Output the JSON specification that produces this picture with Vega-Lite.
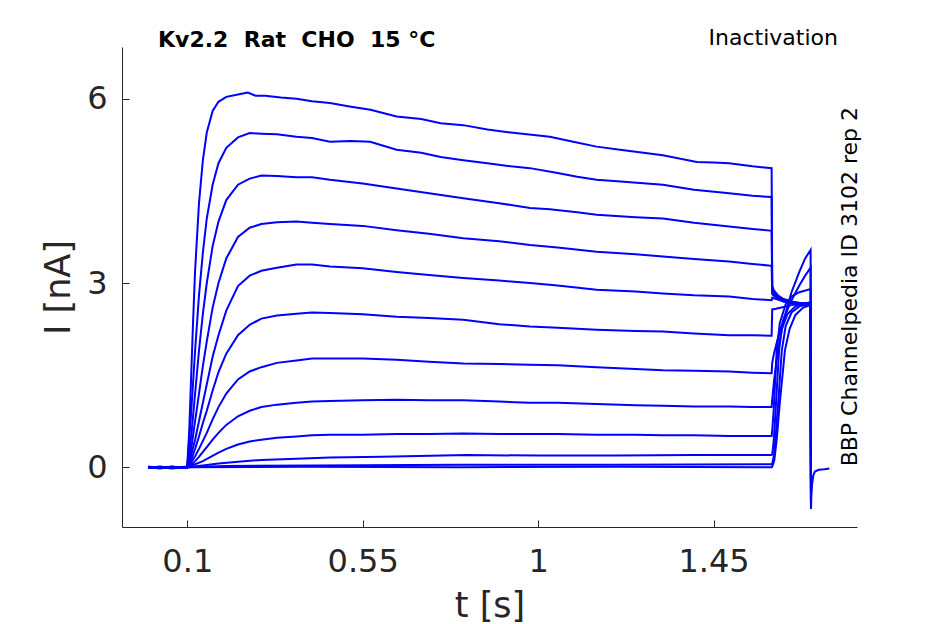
{
  "$schema": "https://vega.github.io/schema/vega-lite/v6.json",
  "width": 735,
  "height": 480,
  "autosize": "none",
  "padding": {"left": 122, "top": 47, "right": 88, "bottom": 97},
  "background": "white",
  "config": {
    "view": {"stroke": null},
    "axis": {
      "grid": false,
      "domainColor": "#262626",
      "tickColor": "#262626",
      "labelColor": "#262626",
      "titleColor": "#262626",
      "labelFont": "DejaVu Sans",
      "titleFont": "DejaVu Sans",
      "labelFontSize": 32,
      "titleFontSize": 35,
      "titleFontWeight": "normal",
      "tickSize": -7,
      "domainWidth": 1,
      "tickWidth": 1
    }
  },
  "data": {
    "values": [
      {"s":"A","t":0,"i":0.01},{"s":"A","t":0.03,"i":-0.01},{"s":"A","t":0.06,"i":0.0},{"s":"A","t":0.0995,"i":-0.01},
      {"s":"A","t":0.1005,"i":0.1},{"s":"A","t":0.105,"i":0.6},{"s":"A","t":0.11,"i":1.5},{"s":"A","t":0.115,"i":2.4},{"s":"A","t":0.12,"i":3.2},{"s":"A","t":0.13,"i":4.3},{"s":"A","t":0.14,"i":5.0},{"s":"A","t":0.15,"i":5.45},{"s":"A","t":0.165,"i":5.8},{"s":"A","t":0.18,"i":5.95},{"s":"A","t":0.2,"i":6.03},{"s":"A","t":0.23,"i":6.07},{"s":"A","t":0.255,"i":6.1},{"s":"A","t":0.275,"i":6.05},{"s":"A","t":0.3,"i":6.05},{"s":"A","t":0.34,"i":6.02},{"s":"A","t":0.38,"i":6.0},{"s":"A","t":0.42,"i":5.96},
      {"s":"A","t":0.466,"i":5.93},{"s":"A","t":0.52,"i":5.87},{"s":"A","t":0.57,"i":5.82},{"s":"A","t":0.637,"i":5.71},{"s":"A","t":0.7,"i":5.67},{"s":"A","t":0.75,"i":5.6},{"s":"A","t":0.808,"i":5.57},{"s":"A","t":0.87,"i":5.5},{"s":"A","t":0.93,"i":5.45},{"s":"A","t":1.03,"i":5.38},{"s":"A","t":1.09,"i":5.3},{"s":"A","t":1.15,"i":5.22},{"s":"A","t":1.22,"i":5.16},{"s":"A","t":1.32,"i":5.08},{"s":"A","t":1.407,"i":4.97},{"s":"A","t":1.45,"i":4.96},{"s":"A","t":1.49,"i":4.95},{"s":"A","t":1.55,"i":4.9},{"s":"A","t":1.599,"i":4.87},
      {"s":"A","t":1.6005,"i":2.95},{"s":"A","t":1.605,"i":2.88},{"s":"A","t":1.615,"i":2.8},{"s":"A","t":1.63,"i":2.74},{"s":"A","t":1.65,"i":2.7},{"s":"A","t":1.67,"i":2.68},{"s":"A","t":1.699,"i":2.66},
      {"s":"A","t":1.7,"i":-0.67},{"s":"A","t":1.701,"i":-0.45},{"s":"A","t":1.703,"i":-0.26},{"s":"A","t":1.706,"i":-0.13},{"s":"A","t":1.71,"i":-0.07},{"s":"A","t":1.72,"i":-0.04},{"s":"A","t":1.735,"i":-0.03},{"s":"A","t":1.747,"i":-0.02},

      {"s":"B","t":0,"i":-0.01},{"s":"B","t":0.03,"i":0.01},{"s":"B","t":0.06,"i":-0.01},{"s":"B","t":0.0995,"i":0.0},
      {"s":"B","t":0.1005,"i":0.05},{"s":"B","t":0.11,"i":0.9},{"s":"B","t":0.12,"i":1.9},{"s":"B","t":0.13,"i":2.8},{"s":"B","t":0.14,"i":3.5},{"s":"B","t":0.15,"i":4.05},{"s":"B","t":0.165,"i":4.6},{"s":"B","t":0.18,"i":4.95},{"s":"B","t":0.2,"i":5.2},{"s":"B","t":0.23,"i":5.37},{"s":"B","t":0.26,"i":5.44},{"s":"B","t":0.29,"i":5.43},{"s":"B","t":0.33,"i":5.42},{"s":"B","t":0.38,"i":5.38},{"s":"B","t":0.42,"i":5.36},
      {"s":"B","t":0.466,"i":5.3},{"s":"B","t":0.52,"i":5.31},{"s":"B","t":0.569,"i":5.3},{"s":"B","t":0.637,"i":5.17},{"s":"B","t":0.7,"i":5.12},{"s":"B","t":0.75,"i":5.05},{"s":"B","t":0.808,"i":5.0},{"s":"B","t":0.87,"i":4.95},{"s":"B","t":0.93,"i":4.9},{"s":"B","t":0.979,"i":4.87},{"s":"B","t":1.05,"i":4.79},{"s":"B","t":1.1,"i":4.73},{"s":"B","t":1.15,"i":4.68},{"s":"B","t":1.22,"i":4.65},{"s":"B","t":1.32,"i":4.6},{"s":"B","t":1.4,"i":4.52},{"s":"B","t":1.49,"i":4.46},{"s":"B","t":1.55,"i":4.42},{"s":"B","t":1.599,"i":4.4},
      {"s":"B","t":1.6005,"i":2.9},{"s":"B","t":1.605,"i":2.85},{"s":"B","t":1.615,"i":2.78},{"s":"B","t":1.63,"i":2.73},{"s":"B","t":1.65,"i":2.69},{"s":"B","t":1.67,"i":2.67},{"s":"B","t":1.699,"i":2.66},{"s":"B","t":1.7,"i":-0.67},

      {"s":"C","t":0,"i":0.0},{"s":"C","t":0.03,"i":-0.02},{"s":"C","t":0.06,"i":0.01},{"s":"C","t":0.0995,"i":-0.01},
      {"s":"C","t":0.1005,"i":0.03},{"s":"C","t":0.11,"i":0.5},{"s":"C","t":0.12,"i":1.2},{"s":"C","t":0.13,"i":1.9},{"s":"C","t":0.14,"i":2.5},{"s":"C","t":0.15,"i":3.0},{"s":"C","t":0.165,"i":3.6},{"s":"C","t":0.18,"i":4.0},{"s":"C","t":0.2,"i":4.35},{"s":"C","t":0.23,"i":4.6},{"s":"C","t":0.26,"i":4.7},{"s":"C","t":0.29,"i":4.75},{"s":"C","t":0.33,"i":4.74},{"s":"C","t":0.38,"i":4.72},{"s":"C","t":0.42,"i":4.72},
      {"s":"C","t":0.466,"i":4.68},{"s":"C","t":0.55,"i":4.62},{"s":"C","t":0.637,"i":4.54},{"s":"C","t":0.72,"i":4.46},{"s":"C","t":0.808,"i":4.38},{"s":"C","t":0.9,"i":4.3},{"s":"C","t":0.979,"i":4.22},{"s":"C","t":1.03,"i":4.2},{"s":"C","t":1.1,"i":4.15},{"s":"C","t":1.15,"i":4.11},{"s":"C","t":1.25,"i":4.07},{"s":"C","t":1.32,"i":4.05},{"s":"C","t":1.4,"i":3.98},{"s":"C","t":1.49,"i":3.92},{"s":"C","t":1.55,"i":3.88},{"s":"C","t":1.599,"i":3.85},
      {"s":"C","t":1.6005,"i":2.86},{"s":"C","t":1.605,"i":2.82},{"s":"C","t":1.615,"i":2.76},{"s":"C","t":1.63,"i":2.72},{"s":"C","t":1.65,"i":2.68},{"s":"C","t":1.67,"i":2.66},{"s":"C","t":1.699,"i":2.65},{"s":"C","t":1.7,"i":-0.67},

      {"s":"D","t":0,"i":-0.01},{"s":"D","t":0.03,"i":0.0},{"s":"D","t":0.06,"i":-0.02},{"s":"D","t":0.0995,"i":0.0},
      {"s":"D","t":0.1005,"i":0.02},{"s":"D","t":0.11,"i":0.3},{"s":"D","t":0.12,"i":0.75},{"s":"D","t":0.13,"i":1.2},{"s":"D","t":0.14,"i":1.65},{"s":"D","t":0.15,"i":2.05},{"s":"D","t":0.165,"i":2.6},{"s":"D","t":0.18,"i":3.0},{"s":"D","t":0.2,"i":3.4},{"s":"D","t":0.23,"i":3.75},{"s":"D","t":0.26,"i":3.9},{"s":"D","t":0.29,"i":3.96},{"s":"D","t":0.33,"i":3.99},{"s":"D","t":0.38,"i":4.0},{"s":"D","t":0.42,"i":3.98},
      {"s":"D","t":0.466,"i":3.96},{"s":"D","t":0.55,"i":3.93},{"s":"D","t":0.637,"i":3.86},{"s":"D","t":0.72,"i":3.8},{"s":"D","t":0.808,"i":3.73},{"s":"D","t":0.9,"i":3.68},{"s":"D","t":0.979,"i":3.62},{"s":"D","t":1.05,"i":3.58},{"s":"D","t":1.15,"i":3.51},{"s":"D","t":1.25,"i":3.47},{"s":"D","t":1.32,"i":3.43},{"s":"D","t":1.4,"i":3.39},{"s":"D","t":1.49,"i":3.35},{"s":"D","t":1.55,"i":3.31},{"s":"D","t":1.599,"i":3.28},
      {"s":"D","t":1.6005,"i":2.82},{"s":"D","t":1.605,"i":2.79},{"s":"D","t":1.615,"i":2.74},{"s":"D","t":1.63,"i":2.7},{"s":"D","t":1.65,"i":2.67},{"s":"D","t":1.67,"i":2.66},{"s":"D","t":1.699,"i":2.65},{"s":"D","t":1.7,"i":-0.67},

      {"s":"E","t":0,"i":0.01},{"s":"E","t":0.03,"i":-0.01},{"s":"E","t":0.06,"i":0.01},{"s":"E","t":0.0995,"i":-0.01},
      {"s":"E","t":0.1005,"i":0.01},{"s":"E","t":0.11,"i":0.2},{"s":"E","t":0.12,"i":0.45},{"s":"E","t":0.13,"i":0.75},{"s":"E","t":0.14,"i":1.05},{"s":"E","t":0.15,"i":1.35},{"s":"E","t":0.165,"i":1.8},{"s":"E","t":0.18,"i":2.15},{"s":"E","t":0.2,"i":2.55},{"s":"E","t":0.23,"i":2.95},{"s":"E","t":0.26,"i":3.12},{"s":"E","t":0.29,"i":3.2},{"s":"E","t":0.33,"i":3.25},{"s":"E","t":0.38,"i":3.3},{"s":"E","t":0.42,"i":3.3},
      {"s":"E","t":0.466,"i":3.27},{"s":"E","t":0.55,"i":3.24},{"s":"E","t":0.637,"i":3.18},{"s":"E","t":0.72,"i":3.13},{"s":"E","t":0.808,"i":3.08},{"s":"E","t":0.9,"i":3.04},{"s":"E","t":0.979,"i":3.0},{"s":"E","t":1.05,"i":2.96},{"s":"E","t":1.15,"i":2.89},{"s":"E","t":1.25,"i":2.86},{"s":"E","t":1.32,"i":2.83},{"s":"E","t":1.4,"i":2.8},{"s":"E","t":1.49,"i":2.78},{"s":"E","t":1.55,"i":2.74},{"s":"E","t":1.599,"i":2.72},
      {"s":"E","t":1.6005,"i":2.76},{"s":"E","t":1.615,"i":2.73},{"s":"E","t":1.63,"i":2.7},{"s":"E","t":1.65,"i":2.68},{"s":"E","t":1.67,"i":2.67},{"s":"E","t":1.699,"i":2.66},{"s":"E","t":1.7,"i":-0.67},

      {"s":"F","t":0,"i":0.0},{"s":"F","t":0.03,"i":0.01},{"s":"F","t":0.06,"i":-0.01},{"s":"F","t":0.0995,"i":0.0},
      {"s":"F","t":0.1005,"i":0.01},{"s":"F","t":0.11,"i":0.12},{"s":"F","t":0.12,"i":0.3},{"s":"F","t":0.13,"i":0.5},{"s":"F","t":0.14,"i":0.72},{"s":"F","t":0.15,"i":0.92},{"s":"F","t":0.165,"i":1.25},{"s":"F","t":0.18,"i":1.55},{"s":"F","t":0.2,"i":1.85},{"s":"F","t":0.23,"i":2.15},{"s":"F","t":0.26,"i":2.32},{"s":"F","t":0.29,"i":2.42},{"s":"F","t":0.33,"i":2.47},{"s":"F","t":0.38,"i":2.5},{"s":"F","t":0.42,"i":2.52},
      {"s":"F","t":0.466,"i":2.51},{"s":"F","t":0.55,"i":2.49},{"s":"F","t":0.637,"i":2.45},{"s":"F","t":0.72,"i":2.43},{"s":"F","t":0.808,"i":2.4},{"s":"F","t":0.9,"i":2.33},{"s":"F","t":0.979,"i":2.29},{"s":"F","t":1.05,"i":2.27},{"s":"F","t":1.15,"i":2.24},{"s":"F","t":1.25,"i":2.22},{"s":"F","t":1.32,"i":2.21},{"s":"F","t":1.4,"i":2.18},{"s":"F","t":1.49,"i":2.15},{"s":"F","t":1.55,"i":2.15},{"s":"F","t":1.599,"i":2.14},
      {"s":"F","t":1.6005,"i":2.57},{"s":"F","t":1.61,"i":2.58},{"s":"F","t":1.63,"i":2.61},{"s":"F","t":1.65,"i":2.64},{"s":"F","t":1.67,"i":2.66},{"s":"F","t":1.699,"i":2.68},{"s":"F","t":1.7,"i":-0.67},

      {"s":"G","t":0,"i":-0.01},{"s":"G","t":0.03,"i":0.0},{"s":"G","t":0.06,"i":0.01},{"s":"G","t":0.0995,"i":-0.01},
      {"s":"G","t":0.1005,"i":0.0},{"s":"G","t":0.11,"i":0.08},{"s":"G","t":0.12,"i":0.18},{"s":"G","t":0.13,"i":0.3},{"s":"G","t":0.14,"i":0.43},{"s":"G","t":0.15,"i":0.56},{"s":"G","t":0.165,"i":0.78},{"s":"G","t":0.18,"i":0.98},{"s":"G","t":0.2,"i":1.2},{"s":"G","t":0.23,"i":1.43},{"s":"G","t":0.26,"i":1.56},{"s":"G","t":0.29,"i":1.63},{"s":"G","t":0.33,"i":1.7},{"s":"G","t":0.38,"i":1.74},{"s":"G","t":0.42,"i":1.77},
      {"s":"G","t":0.466,"i":1.77},{"s":"G","t":0.55,"i":1.77},{"s":"G","t":0.637,"i":1.75},{"s":"G","t":0.72,"i":1.72},{"s":"G","t":0.808,"i":1.69},{"s":"G","t":0.9,"i":1.68},{"s":"G","t":0.979,"i":1.67},{"s":"G","t":1.05,"i":1.66},{"s":"G","t":1.15,"i":1.63},{"s":"G","t":1.25,"i":1.6},{"s":"G","t":1.32,"i":1.58},{"s":"G","t":1.4,"i":1.57},{"s":"G","t":1.49,"i":1.56},{"s":"G","t":1.55,"i":1.54},{"s":"G","t":1.599,"i":1.53},
      {"s":"G","t":1.6005,"i":1.7},{"s":"G","t":1.605,"i":1.85},{"s":"G","t":1.615,"i":2.1},{"s":"G","t":1.63,"i":2.42},{"s":"G","t":1.65,"i":2.72},{"s":"G","t":1.67,"i":2.96},{"s":"G","t":1.685,"i":3.12},{"s":"G","t":1.699,"i":3.25},{"s":"G","t":1.7,"i":-0.67},

      {"s":"H","t":0,"i":0.0},{"s":"H","t":0.03,"i":-0.01},{"s":"H","t":0.06,"i":0.0},{"s":"H","t":0.0995,"i":0.01},
      {"s":"H","t":0.1005,"i":0.0},{"s":"H","t":0.11,"i":0.04},{"s":"H","t":0.12,"i":0.1},{"s":"H","t":0.13,"i":0.17},{"s":"H","t":0.14,"i":0.25},{"s":"H","t":0.15,"i":0.33},{"s":"H","t":0.165,"i":0.45},{"s":"H","t":0.18,"i":0.56},{"s":"H","t":0.2,"i":0.69},{"s":"H","t":0.23,"i":0.83},{"s":"H","t":0.26,"i":0.92},{"s":"H","t":0.29,"i":0.98},{"s":"H","t":0.33,"i":1.02},{"s":"H","t":0.38,"i":1.05},{"s":"H","t":0.42,"i":1.07},
      {"s":"H","t":0.466,"i":1.08},{"s":"H","t":0.55,"i":1.09},{"s":"H","t":0.637,"i":1.1},{"s":"H","t":0.72,"i":1.09},{"s":"H","t":0.808,"i":1.09},{"s":"H","t":0.9,"i":1.07},{"s":"H","t":0.979,"i":1.05},{"s":"H","t":1.05,"i":1.05},{"s":"H","t":1.15,"i":1.03},{"s":"H","t":1.25,"i":1.01},{"s":"H","t":1.32,"i":1.0},{"s":"H","t":1.4,"i":0.99},{"s":"H","t":1.49,"i":0.99},{"s":"H","t":1.55,"i":0.98},{"s":"H","t":1.599,"i":0.98},
      {"s":"H","t":1.6005,"i":1.1},{"s":"H","t":1.605,"i":1.4},{"s":"H","t":1.615,"i":1.9},{"s":"H","t":1.63,"i":2.4},{"s":"H","t":1.65,"i":2.85},{"s":"H","t":1.67,"i":3.18},{"s":"H","t":1.685,"i":3.4},{"s":"H","t":1.699,"i":3.54},{"s":"H","t":1.7,"i":-0.67},

      {"s":"I","t":0,"i":0.01},{"s":"I","t":0.03,"i":0.0},{"s":"I","t":0.06,"i":-0.01},{"s":"I","t":0.0995,"i":0.0},
      {"s":"I","t":0.1005,"i":0.0},{"s":"I","t":0.12,"i":0.05},{"s":"I","t":0.14,"i":0.1},{"s":"I","t":0.16,"i":0.17},{"s":"I","t":0.18,"i":0.24},{"s":"I","t":0.2,"i":0.3},{"s":"I","t":0.23,"i":0.37},{"s":"I","t":0.26,"i":0.42},{"s":"I","t":0.29,"i":0.45},{"s":"I","t":0.33,"i":0.48},{"s":"I","t":0.38,"i":0.5},{"s":"I","t":0.42,"i":0.52},
      {"s":"I","t":0.466,"i":0.53},{"s":"I","t":0.55,"i":0.53},{"s":"I","t":0.637,"i":0.54},{"s":"I","t":0.72,"i":0.54},{"s":"I","t":0.808,"i":0.55},{"s":"I","t":0.9,"i":0.54},{"s":"I","t":0.979,"i":0.54},{"s":"I","t":1.05,"i":0.54},{"s":"I","t":1.15,"i":0.53},{"s":"I","t":1.25,"i":0.53},{"s":"I","t":1.32,"i":0.52},{"s":"I","t":1.4,"i":0.52},{"s":"I","t":1.49,"i":0.51},{"s":"I","t":1.55,"i":0.51},{"s":"I","t":1.599,"i":0.51},
      {"s":"I","t":1.6005,"i":0.6},{"s":"I","t":1.604,"i":0.9},{"s":"I","t":1.608,"i":1.4},{"s":"I","t":1.612,"i":1.9},{"s":"I","t":1.62,"i":2.35},{"s":"I","t":1.635,"i":2.65},{"s":"I","t":1.65,"i":2.78},{"s":"I","t":1.67,"i":2.85},{"s":"I","t":1.699,"i":2.9},{"s":"I","t":1.7,"i":-0.67},

      {"s":"J","t":0,"i":-0.01},{"s":"J","t":0.03,"i":0.01},{"s":"J","t":0.06,"i":0.0},{"s":"J","t":0.0995,"i":-0.01},
      {"s":"J","t":0.1005,"i":0.0},{"s":"J","t":0.14,"i":0.03},{"s":"J","t":0.18,"i":0.06},{"s":"J","t":0.23,"i":0.09},{"s":"J","t":0.29,"i":0.12},{"s":"J","t":0.38,"i":0.14},{"s":"J","t":0.466,"i":0.16},{"s":"J","t":0.6,"i":0.17},{"s":"J","t":0.817,"i":0.2},{"s":"J","t":1.0,"i":0.19},{"s":"J","t":1.2,"i":0.19},{"s":"J","t":1.4,"i":0.2},{"s":"J","t":1.599,"i":0.2},
      {"s":"J","t":1.6005,"i":0.21},{"s":"J","t":1.604,"i":0.4},{"s":"J","t":1.608,"i":0.8},{"s":"J","t":1.613,"i":1.35},{"s":"J","t":1.618,"i":1.9},{"s":"J","t":1.625,"i":2.25},{"s":"J","t":1.64,"i":2.5},{"s":"J","t":1.66,"i":2.62},{"s":"J","t":1.68,"i":2.67},{"s":"J","t":1.699,"i":2.68},{"s":"J","t":1.7,"i":-0.67},

      {"s":"K","t":0,"i":0.0},{"s":"K","t":0.03,"i":-0.01},{"s":"K","t":0.06,"i":0.01},{"s":"K","t":0.0995,"i":0.0},
      {"s":"K","t":0.1005,"i":0.0},{"s":"K","t":0.2,"i":0.02},{"s":"K","t":0.42,"i":0.03},{"s":"K","t":0.8,"i":0.04},{"s":"K","t":1.2,"i":0.04},{"s":"K","t":1.599,"i":0.05},
      {"s":"K","t":1.6005,"i":0.05},{"s":"K","t":1.605,"i":0.2},{"s":"K","t":1.61,"i":0.55},{"s":"K","t":1.617,"i":1.15},{"s":"K","t":1.625,"i":1.9},{"s":"K","t":1.635,"i":2.3},{"s":"K","t":1.65,"i":2.52},{"s":"K","t":1.67,"i":2.62},{"s":"K","t":1.699,"i":2.66},{"s":"K","t":1.7,"i":-0.67},

      {"s":"L","t":0,"i":-0.01},{"s":"L","t":0.03,"i":0.0},{"s":"L","t":0.06,"i":-0.01},{"s":"L","t":0.0995,"i":0.01},
      {"s":"L","t":0.1005,"i":0.0},{"s":"L","t":0.4,"i":0.01},{"s":"L","t":0.8,"i":0.0},{"s":"L","t":1.2,"i":0.01},{"s":"L","t":1.599,"i":0.0},
      {"s":"L","t":1.6005,"i":0.01},{"s":"L","t":1.606,"i":0.12},{"s":"L","t":1.612,"i":0.45},{"s":"L","t":1.62,"i":1.05},{"s":"L","t":1.633,"i":1.9},{"s":"L","t":1.645,"i":2.25},{"s":"L","t":1.66,"i":2.48},{"s":"L","t":1.68,"i":2.6},{"s":"L","t":1.699,"i":2.64},{"s":"L","t":1.7,"i":-0.67}
    ]
  },
  "layer": [
    {
      "mark": {"type": "line", "color": "#0000ff", "strokeWidth": 2},
      "encoding": {
        "x": {
          "field": "t",
          "type": "quantitative",
          "title": "t [s]",
          "scale": {"domain": [-0.0675, 1.818], "nice": false, "zero": false},
          "axis": {"values": [0.1, 0.55, 1, 1.45], "format": ".3~g", "labelPadding": 26, "titlePadding": 11}
        },
        "y": {
          "field": "i",
          "type": "quantitative",
          "title": "I [nA]",
          "scale": {"domain": [-0.972, 6.842], "nice": false, "zero": false},
          "axis": {"values": [0, 3, 6], "format": ".3~g", "labelPadding": 22, "titlePadding": 10}
        },
        "detail": {"field": "s", "type": "nominal"}
      }
    },
    {
      "data": {"values": [{"label": "Kv2.2\u00a0\u00a0Rat\u00a0\u00a0CHO\u00a0\u00a015\u00a0°C"}]},
      "mark": {"type": "text", "font": "DejaVu Sans", "fontSize": 22, "fontWeight": "bold", "align": "left", "baseline": "middle", "color": "#000000"},
      "encoding": {
        "x": {"datum": 0.025, "type": "quantitative"},
        "y": {"datum": 6.955, "type": "quantitative"},
        "text": {"field": "label"}
      }
    },
    {
      "data": {"values": [{"label": "Inactivation"}]},
      "mark": {"type": "text", "font": "DejaVu Sans", "fontSize": 22, "align": "right", "baseline": "middle", "color": "#000000"},
      "encoding": {
        "x": {"datum": 1.769, "type": "quantitative"},
        "y": {"datum": 6.99, "type": "quantitative"},
        "text": {"field": "label"}
      }
    },
    {
      "data": {"values": [{"label": "BBP Channelpedia ID 3102 rep 2"}]},
      "mark": {"type": "text", "font": "DejaVu Sans", "fontSize": 22, "angle": 270, "align": "center", "baseline": "middle", "color": "#000000"},
      "encoding": {
        "x": {"datum": 1.8, "type": "quantitative"},
        "y": {"datum": 2.94, "type": "quantitative"},
        "text": {"field": "label"}
      }
    }
  ]
}
